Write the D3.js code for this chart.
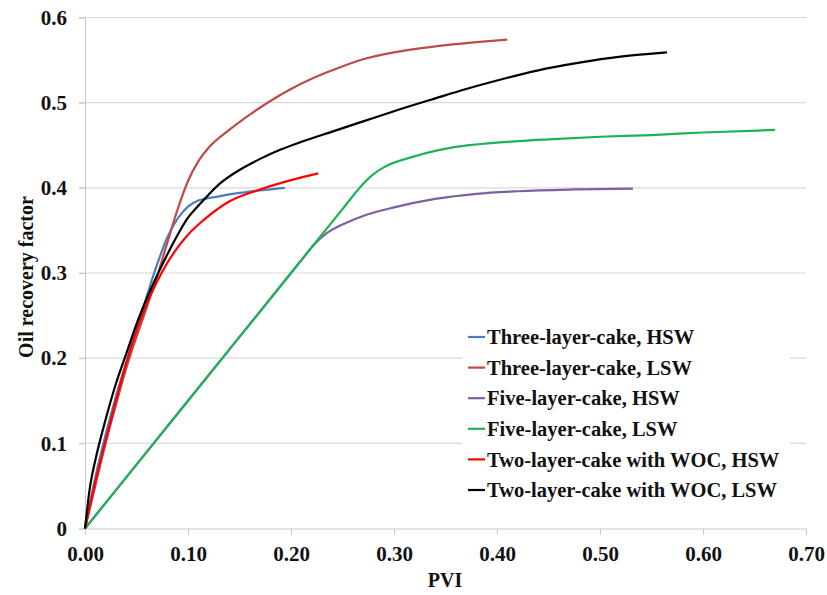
<!DOCTYPE html>
<html>
<head>
<meta charset="utf-8">
<script src="https://cdn.jsdelivr.net/npm/d3@7"></script>
<style>
  body { margin: 0; background: #fff; }
  text { font-family: "Liberation Serif", "Times New Roman", serif; font-weight: bold; fill: #111; }
</style>
</head>
<body>
<script>
// 各曲线的数据 (PVI, 采收率)
var threeHSW = [[0,0],[0.01,0.06],[0.02,0.11],[0.03,0.155],[0.04,0.195],[0.05,0.235],[0.06,0.273],[0.07,0.31],[0.08,0.342],[0.09,0.364],[0.10,0.378],[0.11,0.385],[0.13,0.39],[0.15,0.394],[0.17,0.397],[0.194,0.4]];
var threeLSW = [[0,0],[0.01,0.05],[0.02,0.10],[0.03,0.145],[0.04,0.188],[0.05,0.225],[0.06,0.26],[0.07,0.296],[0.08,0.336],[0.09,0.375],[0.10,0.408],[0.11,0.431],[0.12,0.447],[0.14,0.468],[0.16,0.486],[0.18,0.502],[0.20,0.516],[0.22,0.528],[0.24,0.538],[0.27,0.551],[0.30,0.559],[0.34,0.566],[0.38,0.571],[0.41,0.574]];
var fiveHSW = [[0,0],[0.1,0.15],[0.2,0.3],[0.212,0.318],[0.222,0.333],[0.235,0.347],[0.25,0.357],[0.27,0.367],[0.30,0.377],[0.34,0.387],[0.38,0.393],[0.42,0.396],[0.47,0.398],[0.532,0.399]];
var fiveLSW = [[0,0],[0.1,0.15],[0.2,0.3],[0.25,0.375],[0.268,0.402],[0.278,0.414],[0.29,0.424],[0.32,0.437],[0.36,0.448],[0.40,0.453],[0.45,0.457],[0.50,0.460],[0.55,0.462],[0.60,0.465],[0.67,0.468]];
var twoHSW = [[0,0],[0.01,0.055],[0.02,0.103],[0.03,0.15],[0.04,0.194],[0.05,0.232],[0.06,0.264],[0.07,0.29],[0.08,0.312],[0.09,0.33],[0.10,0.345],[0.115,0.362],[0.14,0.384],[0.17,0.398],[0.20,0.409],[0.2265,0.417]];
var twoLSW = [[0,0],[0.005,0.05],[0.01,0.08],[0.02,0.128],[0.03,0.17],[0.04,0.205],[0.05,0.24],[0.06,0.27],[0.07,0.297],[0.08,0.322],[0.09,0.345],[0.10,0.365],[0.11,0.379],[0.12,0.392],[0.13,0.404],[0.15,0.421],[0.17,0.434],[0.19,0.445],[0.21,0.454],[0.24,0.466],[0.27,0.478],[0.30,0.490],[0.34,0.505],[0.37,0.516],[0.40,0.526],[0.44,0.538],[0.48,0.547],[0.52,0.554],[0.565,0.559]];

var seriesNames = ["Three-layer-cake, HSW", "Three-layer-cake, LSW", "Five-layer-cake, HSW",
    "Five-layer-cake, LSW", "Two-layer-cake with WOC, HSW", "Two-layer-cake with WOC, LSW"];
var seriesColors = ["#4a7ebb", "#be4b48", "#7d60a0", "#1db355", "#ff0000", "#000000"];
var seriesData = [threeHSW, threeLSW, fiveHSW, fiveLSW, twoHSW, twoLSW];

var xTicks = [0, 0.1, 0.2, 0.3, 0.4, 0.5, 0.6, 0.7];
var yTicks = [0, 0.1, 0.2, 0.3, 0.4, 0.5, 0.6];

// 边距
var margin = { top: 17.5, right: 21, bottom: 66.5, left: 85 },
    width = 827 - margin.left - margin.right,
    height = 595 - margin.top - margin.bottom;

var x = d3.scaleLinear().domain([0, 0.7]).range([0, width]);
var y = d3.scaleLinear().domain([0, 0.6]).range([height, 0]);

var svg = d3.select("body").append("svg")
    .attr("width", 827)
    .attr("height", 595);

var chart = svg.append("g")
    .attr("transform", "translate(" + margin.left + "," + margin.top + ")");

// 水平网格线
chart.append("g")
    .selectAll("line")
    .data(yTicks.slice(1))
    .enter()
    .append("line")
    .attr("x1", -6)
    .attr("x2", width)
    .attr("y1", function (d) { return y(d); })
    .attr("y2", function (d) { return y(d); })
    .attr("stroke", "#d9d9d9")
    .attr("stroke-width", 1.2);

// y轴
var yAxis = d3.axisLeft(y)
    .tickValues(yTicks)
    .tickSize(6)
    .tickPadding(12)
    .tickFormat(function (d) { return d === 0 ? "0" : d3.format(".1f")(d); });

var gy = chart.append("g").call(yAxis);
gy.select(".domain").attr("stroke", "#c8c8c8");
gy.selectAll(".tick line").attr("stroke", "#c8c8c8");
gy.selectAll("text").attr("font-size", "21px").style("font-family", "Liberation Serif").attr("fill", "#111");

// x轴
var xAxis = d3.axisBottom(x)
    .tickValues(xTicks)
    .tickSize(6)
    .tickPadding(12)
    .tickFormat(d3.format(".2f"));

var gx = chart.append("g")
    .attr("transform", "translate(0," + height + ")")
    .call(xAxis);
gx.select(".domain").attr("stroke", "#c8c8c8");
gx.selectAll(".tick line").attr("stroke", "#c8c8c8");
gx.selectAll("text").attr("font-size", "21px").style("font-family", "Liberation Serif").attr("fill", "#111");

// 坐标轴标题
svg.append("text")
    .attr("x", 445)
    .attr("y", 587)
    .attr("text-anchor", "middle")
    .attr("font-size", "20px")
    .text("PVI");

svg.append("text")
    .attr("transform", "translate(33,277) rotate(-90)")
    .attr("text-anchor", "middle")
    .attr("font-size", "20px")
    .text("Oil recovery factor");

// 曲线
var line = d3.line()
    .x(function (d) { return x(d[0]); })
    .y(function (d) { return y(d[1]); })
    .curve(d3.curveMonotoneX);

chart.append("g")
    .selectAll("path")
    .data(seriesData)
    .enter()
    .append("path")
    .attr("d", line)
    .attr("fill", "none")
    .attr("stroke", function (d, i) { return seriesColors[i]; })
    .attr("stroke-width", 2.2)
    .attr("stroke-linejoin", "round");

// 图例
var legend = svg.append("g");
legend.append("rect")
    .attr("x", 462)
    .attr("y", 320)
    .attr("width", 328)
    .attr("height", 186)
    .attr("fill", "#fff");

var items = legend.selectAll("g.item")
    .data(seriesNames)
    .enter()
    .append("g")
    .attr("class", "item")
    .attr("transform", function (d, i) { return "translate(468," + (337 + i * 30.6) + ")"; });

items.append("line")
    .attr("x1", 0)
    .attr("x2", 17)
    .attr("stroke", function (d, i) { return seriesColors[i]; })
    .attr("stroke-width", 2.2);

items.append("text")
    .attr("x", 19)
    .attr("dy", "0.35em")
    .attr("font-size", "20.5px")
    .text(function (d) { return d; });
</script>
</body>
</html>
